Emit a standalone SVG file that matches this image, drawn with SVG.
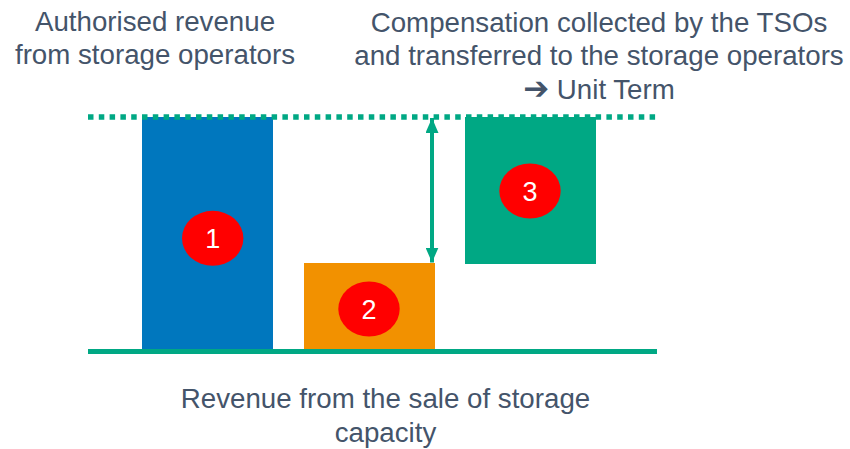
<svg xmlns="http://www.w3.org/2000/svg" width="850" height="449" viewBox="0 0 850 449">
  <defs>
    <style>
      .lbl { font-family: "Liberation Sans", Arial, "DejaVu Sans", sans-serif; font-size: 27.7px; fill: #44546A; text-anchor: middle; }
      .sym { font-family: "DejaVu Sans", sans-serif; font-weight: bold; font-size: 31px; }
      .num { font-family: "Liberation Sans", Arial, sans-serif; font-size: 27px; fill: #FFFFFF; text-anchor: middle; }
      .badge { fill: #FF0000; }
      .teal { stroke: #00A884; }
    </style>
    <marker id="head" viewBox="0 0 15 13" refX="15" refY="6.5" markerWidth="15" markerHeight="13" markerUnits="userSpaceOnUse" orient="auto-start-reverse">
      <path d="M0,0 L15,6.5 L0,13 Z" fill="#00A884"/>
    </marker>
  </defs>

  <rect width="850" height="449" fill="#FFFFFF"/>

  <!-- bars -->
  <g id="bar-authorised">
    <rect x="142" y="117" width="131" height="233" fill="#0077BE"/>
    <ellipse class="badge" cx="212.7" cy="238.3" rx="30.7" ry="27.5"/>
    <text class="num" x="212.7" y="248">1</text>
  </g>
  <g id="bar-sales">
    <rect x="304" y="263" width="131" height="87" fill="#F29100"/>
    <ellipse class="badge" cx="369" cy="309" rx="30.7" ry="27.5"/>
    <text class="num" x="369" y="318.7">2</text>
  </g>
  <g id="bar-compensation">
    <rect x="465" y="117" width="131" height="147" fill="#00A884"/>
    <ellipse class="badge" cx="530" cy="191" rx="30.7" ry="27.5"/>
    <text class="num" x="530" y="200.7">3</text>
  </g>

  <!-- reference lines and gap arrow -->
  <g id="connectors">
    <line class="teal" x1="88" y1="117" x2="657" y2="117" stroke-width="5.5" stroke-dasharray="5.5 5.3"/>
    <line class="teal" x1="88" y1="351.5" x2="657" y2="351.5" stroke-width="5"/>
    <line class="teal" x1="432" y1="118" x2="432" y2="262.5" stroke-width="4" marker-start="url(#head)" marker-end="url(#head)"/>
  </g>

  <!-- captions -->
  <g id="caption-authorised">
    <text class="lbl" x="155" y="31">Authorised revenue</text>
    <text class="lbl" x="155" y="64">from storage operators</text>
  </g>
  <g id="caption-compensation">
    <text class="lbl" x="599" y="32">Compensation collected by the TSOs</text>
    <text class="lbl" x="599" y="65">and transferred to the storage operators</text>
    <text class="lbl" x="599" y="99"><tspan class="sym">➔</tspan> Unit Term</text>
  </g>
  <g id="caption-sales">
    <text class="lbl" x="385.5" y="408">Revenue from the sale of storage</text>
    <text class="lbl" x="385.5" y="442">capacity</text>
  </g>
</svg>
